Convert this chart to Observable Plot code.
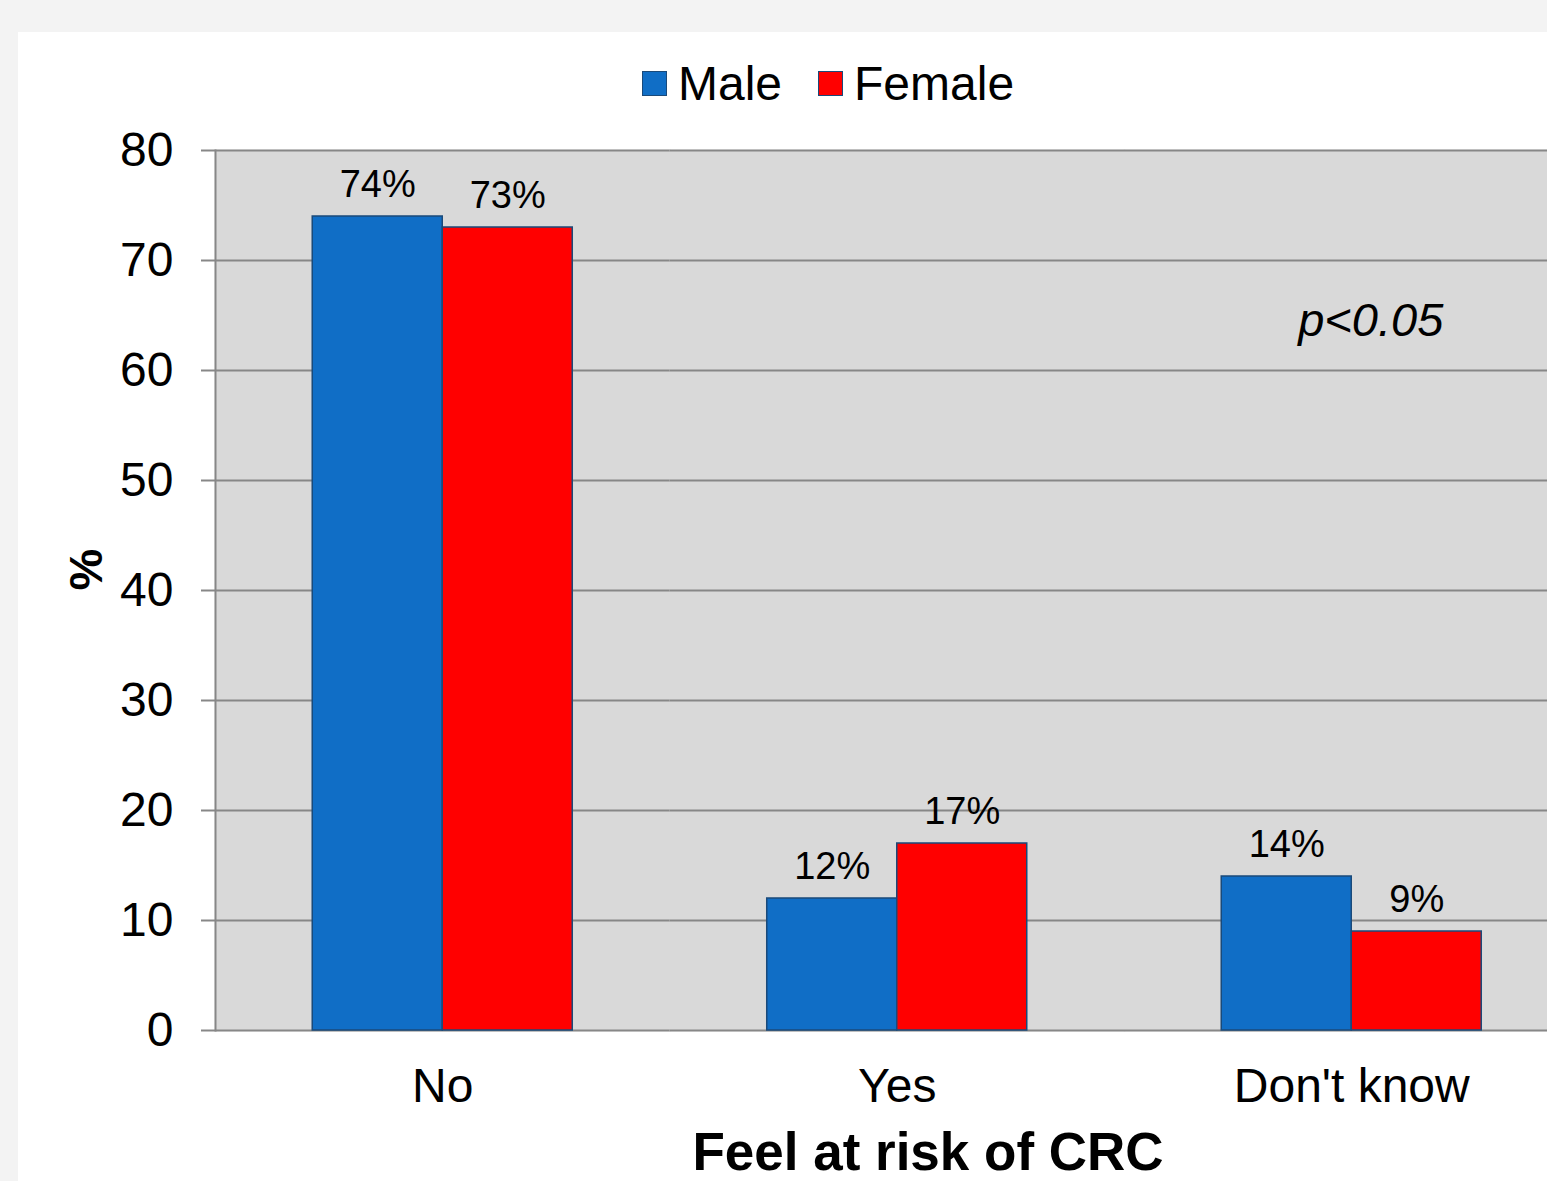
<!DOCTYPE html>
<html>
<head>
<meta charset="utf-8">
<script src="https://cdn.jsdelivr.net/npm/d3@7"></script>
<script src="https://cdn.jsdelivr.net/npm/@observablehq/plot@0.6"></script>
<style>
  html, body { margin: 0; padding: 0; overflow: hidden; }
  body { width: 1547px; height: 1181px; background: #f3f3f3; position: relative; font-family: "Liberation Sans", Arial, sans-serif; }
  #panel { position: absolute; left: 18px; top: 32px; right: 0; bottom: 0; background: #fff; }
  #chart { position: absolute; left: 0; top: 0; }
  #legend { position: absolute; top: 56px; left: 642px; display: flex; align-items: center; font-size: 48px; color: #000; }
  .sw { width: 23px; height: 23px; display: inline-block; border: 1px solid #1a4a7a; margin-right: 11px; }
  .item { display: flex; align-items: center; margin-right: 36px; }
  #xtitle { position: absolute; left: 0; width: 1856px; text-align: center; top: 1129px; font-size: 53px; line-height: 0.85; font-weight: bold; }
</style>
</head>
<body>
<div id="panel"></div>
<div id="chart"></div>
<div id="legend"></div>
<div id="xtitle">Feel at risk of CRC</div>
<script>
// Responses to "Feel at risk of CRC", percentage by sex
const categories = ["No", "Yes", "Don't know"];
const sexes = ["Male", "Female"];
const maleValues = [74, 12, 14];
const femaleValues = [73, 17, 9];
const colors = ["#106ec6", "#ff0000"];
const yTicks = [0, 10, 20, 30, 40, 50, 60, 70, 80];

const data = categories.flatMap((c, i) => [
  {category: c, sex: "Male", value: maleValues[i]},
  {category: c, sex: "Female", value: femaleValues[i]}
]);

const chart = Plot.plot({
  width: 1547,
  height: 1181,
  marginTop: 150,
  marginBottom: 151,
  marginLeft: 215,
  marginRight: 0,
  style: {fontFamily: "Liberation Sans, Arial, sans-serif", background: "transparent", color: "#000"},
  fx: {domain: categories, range: [215, 1578.5], padding: 0, round: false, label: null},
  x: {domain: sexes, paddingInner: 0, paddingOuter: 0.748, round: false, axis: null},
  y: {domain: [0, 80], label: null},
  color: {domain: sexes, range: colors},
  marks: [
    // grey plot background; the matching stroke hides seams between panels
    Plot.frame({fill: "#d9d9d9", stroke: "#d9d9d9", strokeWidth: 1.5}),
    Plot.ruleY(yTicks, {stroke: "#878787", strokeWidth: 2}),
    // vertical axis line, only on the leftmost panel
    Plot.frame({anchor: "left", fx: () => "No", stroke: "#878787", strokeWidth: 2}),
    Plot.axisY({ticks: yTicks, tickSize: 14, tickPadding: 28, fontSize: 48, stroke: "#878787", strokeWidth: 2, tickFormat: d => d, label: null}),
    Plot.axisFx({anchor: "bottom", tickSize: 0, tickPadding: 37, fontSize: 48, label: null}),
    Plot.barY(data, {fx: "category", x: "sex", y: "value", fill: "sex", stroke: "#1a4a7a", strokeWidth: 1.5}),
    Plot.text(data, {fx: "category", x: "sex", y: "value", text: d => `${d.value}%`, lineAnchor: "bottom", dy: -20, fontSize: 38}),
    Plot.text([{category: "Don't know"}], {fx: "category", frameAnchor: "top", text: () => "p<0.05", lineAnchor: "middle", dx: 19, dy: 170, fontSize: 47, fontStyle: "italic"}),
    Plot.text([{category: "No"}], {fx: "category", frameAnchor: "left", text: () => "%", rotate: -90, dx: -129, dy: 0, fontSize: 47, fontWeight: "bold"})
  ]
});
document.getElementById("chart").appendChild(chart);

// Legend: colour swatch followed by series name
const legend = document.getElementById("legend");
sexes.forEach((s, i) => {
  const item = document.createElement("div");
  item.className = "item";
  const sw = document.createElement("span");
  sw.className = "sw";
  sw.style.background = colors[i];
  item.appendChild(sw);
  item.appendChild(document.createTextNode(s));
  legend.appendChild(item);
});
</script>
</body>
</html>
